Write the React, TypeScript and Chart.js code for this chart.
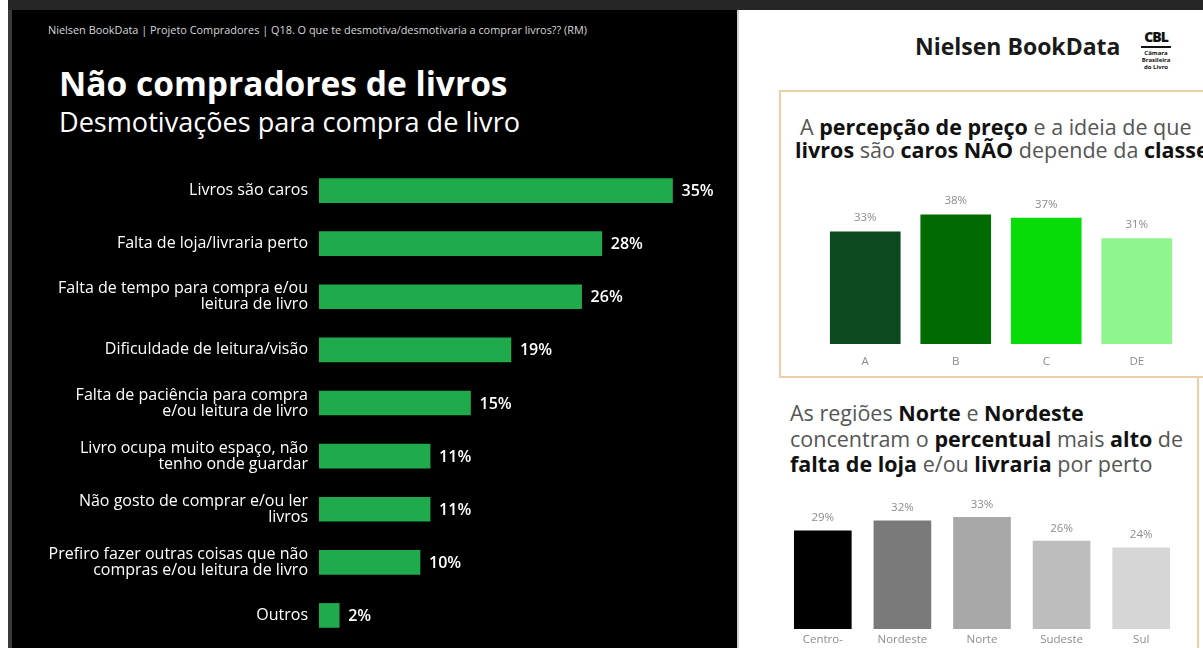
import React, { useEffect, useRef } from "react";
import { Chart, registerables } from "chart.js";

Chart.register(...registerables);

const FONT = "'Open Sans', 'Noto Sans', sans-serif";

// ---------- data ----------
const motiveLabels: string[][] = [
  ["Livros são caros"],
  ["Falta de loja/livraria perto"],
  ["Falta de tempo para compra e/ou", "leitura de livro"],
  ["Dificuldade de leitura/visão"],
  ["Falta de paciência para compra", "e/ou leitura de livro"],
  ["Livro ocupa muito espaço, não", "tenho onde guardar"],
  ["Não gosto de comprar e/ou ler", "livros"],
  ["Prefiro fazer outras coisas que não", "compras e/ou leitura de livro"],
  ["Outros"],
];
const motiveValues = [35, 28, 26, 19, 15, 11, 11, 10, 2];

const classLabels = ["A", "B", "C", "DE"];
const classValues = [33, 38, 37, 31];
const classColors = ["#0a4a1e", "#016a01", "#08dc08", "#90f58c"];

const regionLabels: (string | string[])[] = [["Centro-", "Oeste"], "Nordeste", "Norte", "Sudeste", "Sul"];
const regionValues = [29, 32, 33, 26, 24];
const regionColors = ["#000000", "#7a7a7a", "#a8a8a8", "#bdbdbd", "#d6d6d6"];

// ---------- plugin ----------
const valueLabelPlugin = {
  id: "valueLabels",
  afterDatasetsDraw(chart: any, _args: any, opts: any) {
    if (!opts || !opts.enabled) return;
    const ctx = chart.ctx;
    const meta = chart.getDatasetMeta(0);
    const data = chart.data.datasets[0].data as number[];
    ctx.save();
    ctx.fillStyle = opts.color;
    ctx.font = opts.font;
    meta.data.forEach((el: any, i: number) => {
      const txt = data[i] + "%";
      if (opts.horizontal) {
        ctx.textAlign = "left";
        ctx.textBaseline = "middle";
        ctx.fillText(txt, el.x + opts.offset, el.y + 1);
      } else {
        ctx.textAlign = "center";
        ctx.textBaseline = "bottom";
        ctx.fillText(txt, el.x, el.y - opts.offset);
      }
    });
    ctx.restore();
  },
};

function ChartBox({ config, style, w, h }: { config: any; style: React.CSSProperties; w: number; h: number }) {
  const ref = useRef<HTMLCanvasElement>(null);
  useEffect(() => {
    const c = new Chart(ref.current as HTMLCanvasElement, config);
    return () => c.destroy();
  }, []);
  return (
    <canvas
      ref={ref}
      width={w}
      height={h}
      style={{ position: "absolute", width: w, height: h, ...style }}
    />
  );
}

const motiveConfig = {
  type: "bar",
  data: {
    labels: motiveLabels,
    datasets: [{ data: motiveValues, backgroundColor: "#1fab4b", barThickness: 24, borderWidth: 0 }],
  },
  plugins: [valueLabelPlugin],
  options: {
    indexAxis: "y",
    responsive: false,
    animation: false,
    layout: { padding: { left: 0, right: 14, top: 0, bottom: 0 } },
    plugins: {
      legend: { display: false },
      tooltip: { enabled: false },
      valueLabels: { enabled: true, horizontal: true, offset: 9, color: "#ffffff", font: `600 16px ${FONT}` },
    },
    scales: {
      x: { display: false, min: 0, max: 40 },
      y: {
        afterFit: (s: any) => { s.width = 319; },
        grid: { display: false, drawTicks: false },
        border: { display: false },
        ticks: { color: "#ffffff", padding: 11, font: { family: FONT, size: 16, lineHeight: "16px" } },
      },
    },
  },
};

const classConfig = {
  type: "bar",
  data: {
    labels: classLabels,
    datasets: [{ data: classValues, backgroundColor: classColors, barThickness: 70, borderWidth: 0 }],
  },
  plugins: [valueLabelPlugin],
  options: {
    responsive: false,
    animation: false,
    layout: { padding: { left: 10, right: 8, top: 6, bottom: 6 } },
    plugins: {
      legend: { display: false },
      tooltip: { enabled: false },
      valueLabels: { enabled: true, horizontal: false, offset: 8, color: "#8c8c8c", font: `400 11.5px ${FONT}` },
    },
    scales: {
      y: { display: false, min: 0, max: 45 },
      x: {
        afterFit: (s: any) => { s.height = 30; },
        grid: { display: false, drawTicks: false },
        border: { display: false },
        ticks: { color: "#8c8c8c", padding: 11, font: { family: FONT, size: 11.5 } },
      },
    },
  },
};

const regionConfig = {
  type: "bar",
  data: {
    labels: regionLabels,
    datasets: [{ data: regionValues, backgroundColor: regionColors, barThickness: 57, borderWidth: 0 }],
  },
  plugins: [valueLabelPlugin],
  options: {
    responsive: false,
    animation: false,
    layout: { padding: { left: 10, right: 10, top: 7, bottom: 11 } },
    plugins: {
      legend: { display: false },
      tooltip: { enabled: false },
      valueLabels: { enabled: true, horizontal: false, offset: 7, color: "#8c8c8c", font: `400 11.5px ${FONT}` },
    },
    scales: {
      y: { display: false, min: 0, max: 42 },
      x: {
        afterFit: (s: any) => { s.height = 30; },
        grid: { display: false, drawTicks: false },
        border: { display: false },
        ticks: { color: "#8c8c8c", padding: 4, font: { family: FONT, size: 11.5, lineHeight: 1.2 } },
      },
    },
  },
};

const abs = (s: React.CSSProperties): React.CSSProperties => ({ position: "absolute", whiteSpace: "nowrap", ...s });

export default function App() {
  const B = (t: string) => <b style={{ color: "#111", fontWeight: 700 }}>{t}</b>;
  return (
    <div
      style={{
        position: "absolute",
        left: 0,
        top: 0,
        width: 1203,
        height: 648,
        overflow: "hidden",
        background: "#ffffff",
        fontFamily: FONT,
      }}
    >
      {/* frame */}
      <div style={abs({ left: 8, top: 0, width: 1195, height: 10, background: "#262626" })} />
      <div style={abs({ left: 8, top: 10, width: 4, height: 638, background: "#3a3a3a" })} />
      <div style={abs({ left: 12, top: 10, width: 725, height: 638, background: "#000000" })} />
      <div style={abs({ left: 737, top: 10, width: 2, height: 638, background: "#d0d0d0" })} />

      {/* left texts */}
      <div style={abs({ left: 48, top: 24, fontSize: 10.9, color: "#d8d8d8", lineHeight: "12px" })}>
        Nielsen BookData | Projeto Compradores | Q18. O que te desmotiva/desmotivaria a comprar livros?? (RM)
      </div>
      <div style={abs({ left: 59, top: 62, fontSize: 33.5, fontWeight: 700, color: "#ffffff", lineHeight: "42px" })}>
        Não compradores de livros
      </div>
      <div style={abs({ left: 59, top: 105, fontSize: 27.1, color: "#ffffff", lineHeight: "34px" })}>
        Desmotivações para compra de livro
      </div>

      <ChartBox config={motiveConfig} w={737} h={516} style={{ left: 0, top: 145 }} />

      {/* right header */}
      <div style={abs({ left: 915, top: 31, fontSize: 23, fontWeight: 700, color: "#1a1a1a", lineHeight: "30px" })}>
        Nielsen BookData
      </div>
      <div style={abs({ left: 1131, top: 29, width: 50, textAlign: "center", color: "#111" })}>
        <div style={{ fontSize: 14, fontWeight: 800, lineHeight: "16px", letterSpacing: -1 }}>CBL</div>
        <div style={{ width: 30, height: 2, background: "#111", margin: "1px auto 2px" }} />
        <div style={{ fontSize: 6, fontWeight: 700, lineHeight: "7px" }}>Câmara</div>
        <div style={{ fontSize: 6, fontWeight: 700, lineHeight: "7px" }}>Brasileira</div>
        <div style={{ fontSize: 6, fontWeight: 700, lineHeight: "7px" }}>do Livro</div>
      </div>

      {/* box 1 */}
      <div
        style={abs({
          left: 779,
          top: 90,
          width: 440,
          height: 288,
          border: "2px solid #ebcfa8",
          boxSizing: "border-box",
        })}
      />
      <div style={abs({ left: 1197, top: 378, width: 2, height: 270, background: "#ebcfa8" })} />
      <div style={abs({ left: 780, top: 376, width: 423, height: 2, background: "#ebcfa8" })} />

      <div style={abs({ left: 800, top: 114, fontSize: 21.5, color: "#555", lineHeight: "25px" })}>
        A {B("percepção de preço")} e a ideia de que
      </div>
      <div style={abs({ left: 795, top: 137, fontSize: 21.5, color: "#555", lineHeight: "25px" })}>
        {B("livros")} são {B("caros NÃO")} depende da {B("classe")}
      </div>

      <ChartBox config={classConfig} w={380} h={195} style={{ left: 810, top: 185 }} />

      {/* box 2 */}
      <div style={abs({ left: 790, top: 400, fontSize: 21.5, color: "#555", lineHeight: "25.5px" })}>
        <div>As regiões {B("Norte")} e {B("Nordeste")}</div>
        <div>concentram o {B("percentual")} mais {B("alto")} de</div>
        <div>{B("falta de loja")} e/ou {B("livraria")} por perto</div>
      </div>

      <ChartBox config={regionConfig} w={418} h={190} style={{ left: 773, top: 480 }} />
    </div>
  );
}
